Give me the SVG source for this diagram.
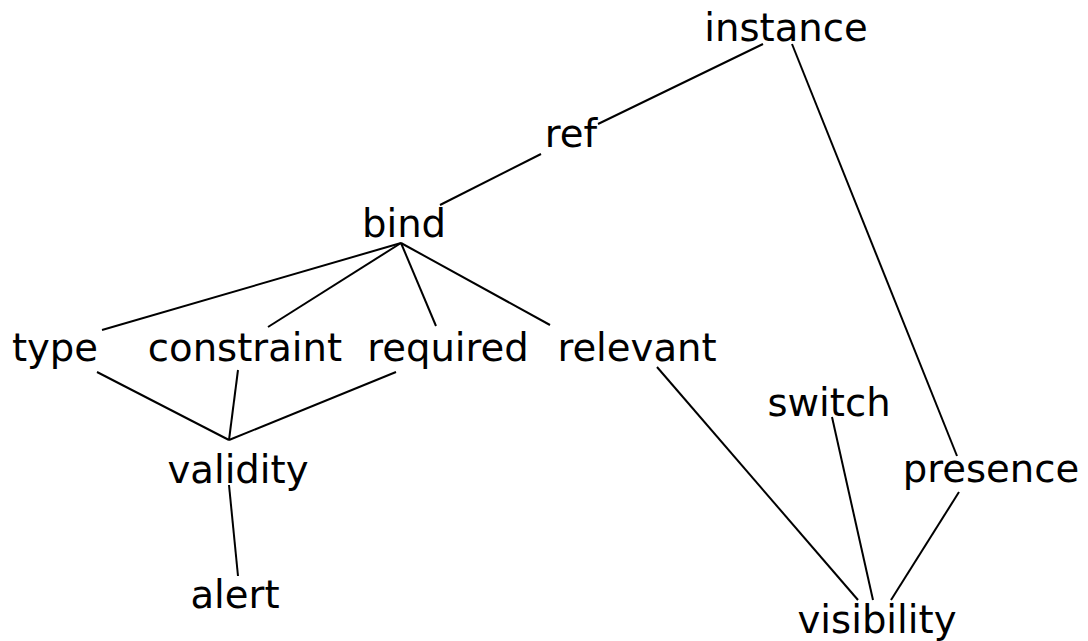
<svg xmlns="http://www.w3.org/2000/svg" width="1088" height="641" viewBox="0 0 1088 641">
<style>
text{font-family:"DejaVu Sans",sans-serif;font-size:38.6px;fill:#000;text-anchor:middle}
.e line{stroke:#000;stroke-width:2}
</style>
<rect width="1088" height="641" fill="#fff"/>
<g class="e" id="edges">
<line x1="763" y1="44" x2="598" y2="124"/>
<line x1="541" y1="154" x2="440" y2="205"/>
<line x1="792" y1="44" x2="957" y2="456"/>
<line x1="401" y1="243" x2="102" y2="330"/>
<line x1="401" y1="243" x2="268" y2="327"/>
<line x1="401" y1="243" x2="436" y2="326"/>
<line x1="401" y1="243" x2="550" y2="325"/>
<line x1="97" y1="372" x2="229" y2="440"/>
<line x1="238" y1="370" x2="229" y2="440"/>
<line x1="396" y1="372" x2="229" y2="440"/>
<line x1="657" y1="367" x2="858" y2="600"/>
<line x1="229" y1="485" x2="238" y2="576"/>
<line x1="832" y1="417" x2="873" y2="600"/>
<line x1="959" y1="492" x2="891" y2="600"/>
</g>
<g id="instance"><text x="786" y="41">instance</text></g>
<g id="ref"><text x="571" y="147">ref</text></g>
<g id="bind"><text x="404" y="237">bind</text></g>
<g id="type"><text x="55" y="361">type</text></g>
<g id="constraint"><text x="245" y="361">constraint</text></g>
<g id="required"><text x="448" y="361">required</text></g>
<g id="relevant"><text x="637" y="361">relevant</text></g>
<g id="switch"><text x="829" y="416">switch</text></g>
<g id="validity"><text x="238" y="483">validity</text></g>
<g id="presence"><text x="991" y="482">presence</text></g>
<g id="alert"><text x="235" y="608">alert</text></g>
<g id="visibility"><text x="877" y="633">visibility</text></g>
</svg>
